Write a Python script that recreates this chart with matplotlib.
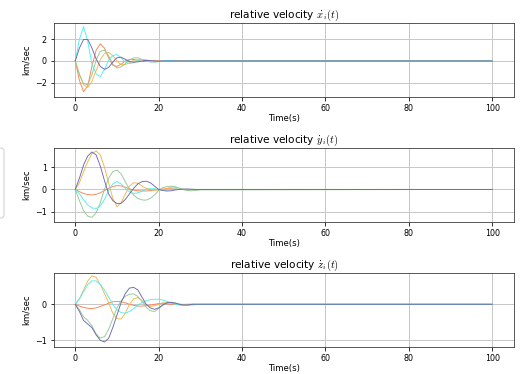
import matplotlib
matplotlib.use("Agg")
import matplotlib.pyplot as plt
from matplotlib.patches import FancyBboxPatch
from matplotlib.transforms import Affine2D

plt.rcParams["mathtext.fontset"] = "cm"

# time grid (s): dense samples during the transient, then the final instant
time_s = list(range(31)) + [100]

# relative velocity x (km/sec)
vx_red = [0, -1.8, -2.85, -2.3, -0.5, 1.0, 1.6, 1.2, 0.3, -0.4, -0.5, -0.3, 0.0, 0.15, 0.15, 0.05,
          -0.05, -0.05, 0.0, 0.02, 0.02, 0.0, 0, 0, 0, 0, 0, 0, 0, 0, 0, 0]
vx_orange = [0, -1.2, -2.2, -2.45, -1.9, -0.9, 0.1, 0.7, 0.8, 0.5, 0.0, -0.35, -0.35, -0.15, 0.05, 0.12,
             0.1, 0.0, -0.05, -0.03, 0.0, 0.02, 0.01, 0, 0, 0, 0, 0, 0, 0, 0, 0]
vx_green = [0, -1.3, -2.1, -2.2, -1.3, 0.1, 0.9, 1.0, 0.5, -0.3, -0.65, -0.55, -0.25, 0.1, 0.28, 0.3,
            0.15, 0.0, -0.1, -0.1, -0.05, 0.0, 0.03, 0.0, 0, 0, 0, 0, 0, 0, 0, 0]
vx_cyan = [0, 2.0, 3.2, 1.8, -0.3, -1.2, -1.45, -0.8, 0.1, 0.5, 0.6, 0.3, -0.1, -0.25, -0.15, 0.05,
           0.15, 0.12, 0.0, -0.08, -0.06, 0.0, 0.05, 0.04, 0.0, -0.03, -0.02, 0.0, 0, 0, 0, 0]
vx_purple = [0, 1.2, 2.0, 2.0, 1.2, 0.2, -0.5, -0.78, -0.6, -0.1, 0.3, 0.35, 0.15, -0.05, -0.12, -0.08,
             0.0, 0.05, 0.04, 0.0, -0.02, 0.0, 0, 0, 0, 0, 0, 0, 0, 0, 0, 0]

# relative velocity y (km/sec)
vy_red = [0, -0.1, -0.18, -0.23, -0.25, -0.22, -0.15, -0.05, 0.05, 0.13, 0.17, 0.16, 0.1, 0.03, -0.03,
          -0.06, -0.07, -0.07, -0.05, -0.02, 0.0, 0.02, 0.03, 0.03, 0.02, 0.0, 0, 0, 0, 0, 0, 0]
vy_orange = [0, 0.3, 0.8, 1.25, 1.6, 1.73, 1.55, 1.0, 0.3, -0.4, -0.77, -0.6, -0.2, 0.15, 0.3, 0.28,
             0.15, 0.05, 0.0, -0.03, -0.03, 0.0, 0.05, 0.1, 0.1, 0.05, 0.0, -0.03, -0.02, 0.0, 0, 0]
vy_green = [0, -0.5, -0.95, -1.2, -1.25, -1.05, -0.6, 0.0, 0.5, 0.8, 0.87, 0.7, 0.35, 0.0, -0.25, -0.4,
            -0.47, -0.48, -0.4, -0.25, -0.05, 0.08, 0.13, 0.15, 0.12, 0.05, -0.02, -0.05, -0.06, -0.04,
            -0.02, 0]
vy_cyan = [0, -0.2, -0.45, -0.7, -0.83, -0.85, -0.75, -0.45, -0.05, 0.25, 0.35, 0.25, 0.05, -0.12, -0.18,
           -0.15, -0.08, 0.0, 0.03, 0.03, 0.0, -0.02, -0.02, 0.0, 0.02, 0.01, 0, 0, 0, 0, 0, 0]
vy_purple = [0, 0.5, 1.1, 1.5, 1.68, 1.55, 1.05, 0.4, -0.2, -0.5, -0.63, -0.62, -0.45, -0.2, 0.05, 0.25,
             0.35, 0.37, 0.3, 0.15, 0.0, -0.05, -0.07, -0.06, -0.02, 0.0, 0.02, 0.02, 0.01, 0.0, 0, 0]

# relative velocity z (km/sec)
vz_red = [0, -0.05, -0.09, -0.11, -0.12, -0.1, -0.06, -0.02, 0.03, 0.07, 0.08, 0.07, 0.04, 0.0, -0.03,
          -0.05, -0.05, -0.04, -0.02, 0.0, 0.02, 0.02, 0.01, 0.0, 0, 0, 0, 0, 0, 0, 0, 0]
vz_orange = [0, 0.15, 0.4, 0.65, 0.79, 0.75, 0.55, 0.3, 0.05, -0.25, -0.4, -0.41, -0.25, 0.0, 0.15, 0.19,
             0.1, -0.02, -0.06, -0.04, 0.0, 0.04, 0.05, 0.03, 0.0, -0.02, -0.01, 0.0, 0, 0, 0, 0]
vz_green = [0, -0.15, -0.35, -0.45, -0.6, -0.82, -0.94, -0.9, -0.7, -0.4, -0.1, 0.1, 0.22, 0.28, 0.29,
            0.22, 0.08, -0.08, -0.18, -0.2, -0.12, -0.02, 0.05, 0.06, 0.04, 0.0, -0.02, -0.02, 0.0, 0, 0, 0]
vz_cyan = [0, 0.15, 0.35, 0.55, 0.65, 0.65, 0.55, 0.4, 0.2, 0.0, -0.15, -0.23, -0.25, -0.2, -0.12, -0.03,
           0.05, 0.1, 0.13, 0.14, 0.14, 0.12, 0.08, 0.04, 0.0, -0.02, -0.03, -0.03, -0.02, -0.01, 0.0, 0]
vz_purple = [0, -0.2, -0.45, -0.55, -0.65, -0.85, -1.0, -1.05, -0.95, -0.65, -0.3, 0.05, 0.3, 0.45, 0.47,
             0.4, 0.2, 0.0, -0.1, -0.14, -0.1, -0.02, 0.04, 0.05, 0.03, 0.0, -0.02, -0.02, 0.0, 0, 0, 0]

agent_colors = ["#FF7F50", "#F5B54A", "#93C993", "#4DF0F0", "#6E66AE"]

panels = [
    (r"relative velocity $\dot{x}_i(t)$", [vx_red, vx_orange, vx_green, vx_cyan, vx_purple],
     (-3.32, 3.56), [-2, 0, 2]),
    (r"relative velocity $\dot{y}_i(t)$", [vy_red, vy_orange, vy_green, vy_cyan, vy_purple],
     (-1.45, 1.87), [-1, 0, 1]),
    (r"relative velocity $\dot{z}_i(t)$", [vz_red, vz_orange, vz_green, vz_cyan, vz_purple],
     (-1.18, 0.88), [-1, 0]),
]

fig = plt.figure(figsize=(521 / 72, 374 / 72), dpi=72)
axes_bottoms = [0.7414, 0.407, 0.073]

for (title, series, ylim, yticks), bottom in zip(panels, axes_bottoms):
    ax = fig.add_axes([0.1036, bottom, 0.883, 0.198])
    for values, color in zip(series, agent_colors):
        ax.plot(time_s, values, color=color, lw=0.9)
    ax.set_xlim(-5.1, 105.2)
    ax.set_ylim(*ylim)
    ax.set_yticks(yticks)
    ax.set_xticks([0, 20, 40, 60, 80, 100])
    ax.grid(True, color="#c8c8c8", lw=1)
    for spine in ax.spines.values():
        spine.set_color("#333333")
    ax.set_title(title, fontsize=10.5, pad=4)
    ax.set_xlabel("Time(s)", fontsize=8.5, labelpad=1)
    ax.set_ylabel("km/sec", fontsize=8.5)
    ax.tick_params(labelsize=8)

# right edge of a legend frame that lies mostly outside the figure (pixels, top-down)
frame = FancyBboxPatch((-40, 148), 44, 70, boxstyle="round,pad=0,rounding_size=3",
                       facecolor="white", edgecolor="#d0d0d0", lw=1)
frame.set_transform(Affine2D().scale(1, -1).translate(0, 374))
fig.patches.append(frame)

fig.savefig("out.png", dpi=72)
